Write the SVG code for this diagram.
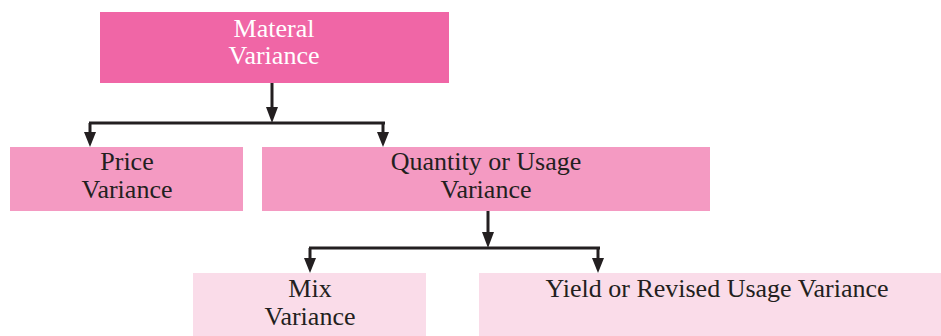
<svg xmlns="http://www.w3.org/2000/svg" width="941" height="336" viewBox="0 0 941 336">
<style>
.t{font-family:"Liberation Serif","Times New Roman",serif;font-size:26px;text-anchor:middle;fill:#231F20}
.w{fill:#FFFFFF}
.c{stroke:#231F20;stroke-width:3;fill:none}
</style>
<rect width="941" height="336" fill="#FFFFFF"/>
<g id="material">
<rect x="100" y="12" width="349" height="71" fill="#F066A6"/>
<text class="t w" x="274" y="37">Materal</text>
<text class="t w" x="274" y="64">Variance</text>
</g>
<g id="price">
<rect x="10" y="147" width="233" height="64" fill="#F49AC2"/>
<text class="t" x="127" y="170">Price</text>
<text class="t" x="127" y="198">Variance</text>
</g>
<g id="quantity">
<rect x="262" y="147" width="448" height="64" fill="#F49AC2"/>
<text class="t" x="486" y="170">Quantity or Usage</text>
<text class="t" x="486" y="198">Variance</text>
</g>
<g id="mix">
<rect x="193" y="273" width="233" height="63" fill="#FADCE9"/>
<text class="t" x="310" y="297">Mix</text>
<text class="t" x="310" y="325">Variance</text>
</g>
<g id="yield">
<rect x="479" y="273" width="462" height="63" fill="#FADCE9"/>
<text class="t" x="717" y="297">Yield or Revised Usage Variance</text>
</g>
<g id="connectors">
<g class="c">
<line x1="272" y1="83" x2="272" y2="109"/>
<line x1="89" y1="123" x2="385" y2="123"/>
<line x1="90" y1="123" x2="90" y2="134"/>
<line x1="383" y1="123" x2="383" y2="134"/>
<line x1="488" y1="211" x2="488" y2="234"/>
<line x1="309" y1="248" x2="600" y2="248"/>
<line x1="310" y1="248" x2="310" y2="260"/>
<line x1="598" y1="248" x2="598" y2="260"/>
</g>
<g fill="#231F20">
<path d="M266,107 L278,107 L272,123 Z"/>
<path d="M84,132 L96,132 L90,147 Z"/>
<path d="M377,132 L389,132 L383,147 Z"/>
<path d="M482,232 L494,232 L488,248 Z"/>
<path d="M304,258 L316,258 L310,273 Z"/>
<path d="M592,258 L604,258 L598,273 Z"/>
</g>
</g>
</svg>
